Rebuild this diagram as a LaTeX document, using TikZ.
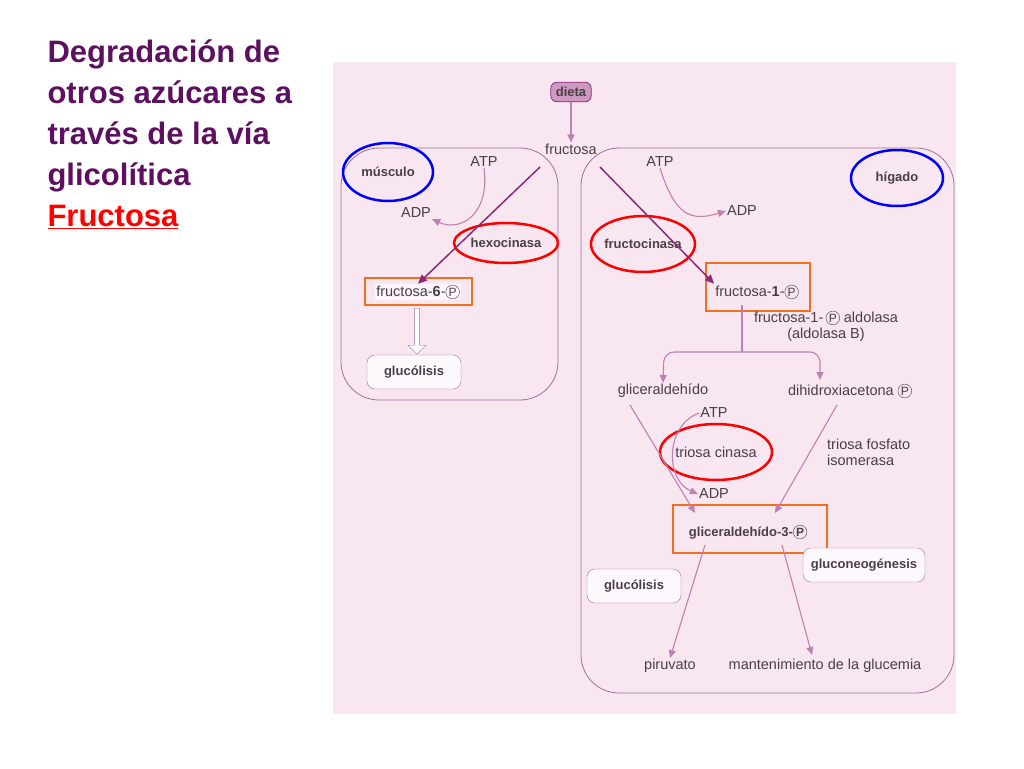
\documentclass[tikz,border=0pt]{standalone}
\usepackage{fontspec}
\setmainfont{Liberation Sans}
\usepackage{tikz}
\usetikzlibrary{arrows.meta,shapes.arrows}
\definecolor{titlecol}{HTML}{5E1060}
\definecolor{panel}{HTML}{F8E6F1}
\definecolor{boxline}{HTML}{A0709A}
\definecolor{arrowcol}{HTML}{C080B0}
\definecolor{darkarrow}{HTML}{8A2A78}
\definecolor{txt}{HTML}{4A3E48}
\definecolor{mark}{HTML}{F07020}
\newcommand\circP{\tikz[baseline=(c.base)]\node[circle,draw,inner sep=0.8pt,font=\fontsize{12}{12}\selectfont](c){P};}
\begin{document}
\begin{tikzpicture}[x=1pt,y=-1pt]
	\tikzstyle{lbl} = [text=txt, font=\fontsize{14.5}{16}\selectfont, inner sep=1pt]
	\tikzstyle{blbl} = [lbl, font=\fontsize{13}{15}\selectfont\bfseries]
	\tikzstyle{panelbox} = [draw=boxline, thick, rounded corners=38pt]
	\tikzstyle{flow} = [-{Triangle[length=8pt,width=7pt]}, arrowcol, line width=1.1pt]
	\tikzstyle{mainflow} = [-{Triangle[length=9pt,width=8pt]}, darkarrow, line width=1.5pt]
	\tikzstyle{redring} = [draw=red, line width=2.5pt]
	\tikzstyle{bluering} = [draw=blue, line width=2.5pt]
	\tikzstyle{orangebox} = [draw=mark, line width=2.5pt]
	\useasboundingbox (0,0) rectangle (1024,768);
	% title
	\node[anchor=north west, align=left, text=titlecol, font=\fontsize{31}{41}\selectfont\bfseries](title) at (44,36)
		{Degradación de\\otros azúcares a\\través de la vía\\glicolítica\\\textcolor{red}{\underline{Fructosa}}};
	% panel
	\fill[panel] (333,62) rectangle (956,714);
	\draw[panelbox] (341,148) rectangle (558,400);
	\draw[panelbox] (581,148) rectangle (954,693);
	\node[blbl, draw=darkarrow, thick, fill=arrowcol!80, rounded corners=6pt, inner sep=5pt](dieta) at (571,92){dieta};
	\node[lbl](fructosa) at (571,149){fructosa};
	\draw[flow] (dieta) -- (fructosa);
	% musculo
	\node[blbl](musculo) at (388,172){músculo};
	\draw[bluering] (musculo) ellipse (45 and 29);
	\node[lbl](atpL) at (484,162){ATP};
	\node[lbl](adpL) at (416,213){ADP};
	\node[blbl](hexo) at (506,243){hexocinasa};
	\draw[redring] (hexo) ellipse (52 and 20);
	\node[lbl, fill=white!60!panel](f6p) at (418,292){fructosa-\textbf{6}-\circP};
	\draw[orangebox] (365,278) rectangle (472,305);
	\coordinate (startL) at (540,167);
	\draw[flow] (atpL.south) .. controls (490,215) and (460,232) .. (adpL.south east);
	\draw[mainflow] (startL) -- (f6p.north);
	\node[blbl, draw=boxline, fill=white!70!panel, rounded corners=8pt, minimum width=94pt, minimum height=34pt](glucL) at (414,372){glucólisis};
	\node[single arrow, draw=boxline, fill=white, shape border rotate=270, minimum height=46pt, minimum width=18pt, single arrow head extend=3pt, inner sep=1pt](hollow) at (417,330){};
	% higado
	\node[blbl](higado) at (897,178){hígado};
	\draw[bluering] (higado) ellipse (46 and 28);
	\node[lbl](atpR) at (660,162){ATP};
	\node[lbl](adpR) at (742,211){ADP};
	\node[blbl](fructo) at (643,244){fructocinasa};
	\draw[redring] (fructo) ellipse (52 and 28);
	\node[lbl](f1p) at (757,292){fructosa-\textbf{1}-\circP};
	\draw[orangebox] (706,263) rectangle (810,311);
	\coordinate (startR) at (600,167);
	\draw[flow] (atpR.south) .. controls (675,215) and (690,222) .. (adpR.west);
	\draw[mainflow] (startR) -- (f1p.north west);
	\node[lbl, align=center](aldolasa) at (826,326){fructosa-1-\,\circP\ aldolasa\\(aldolasa B)};
	% split
	\node[lbl](glic) at (663,391){gliceraldehído};
	\node[lbl](dhap) at (850,391){dihidroxiacetona \circP};
	\coordinate (split) at (742,352);
	\draw[arrowcol, line width=1.1pt] (742,305) -- (split);
	\draw[flow, rounded corners=10pt] (split) -- (664,352) -- (glic.north);
	\draw[flow, rounded corners=10pt] (split) -- (820,352) -- (820,380);
	\node[lbl](atpT) at (714,413){ATP};
	\node[lbl](triosa) at (716,452){triosa cinasa};
	\draw[redring] (triosa) ellipse (56 and 28);
	\node[lbl](adpT) at (714,494){ADP};
	\node[lbl, align=left, anchor=west](isom) at (826,452){triosa fosfato\\isomerasa};
	\node[blbl](g3p) at (748,532){gliceraldehído-3-\circP};
	\draw[orangebox] (673,505) rectangle (827,553);
	\draw[flow] (630,405) -- (695,513);
	\draw[flow] (837,405) -- (775,513);
	\draw[flow] (atpT.west) .. controls (665,425) and (665,480) .. (adpT.west);
	\node[blbl, draw=boxline, fill=white!70!panel, rounded corners=8pt, minimum width=122pt, minimum height=34pt](gluconeo) at (864,565){gluconeogénesis};
	\node[blbl, draw=boxline, fill=white!70!panel, rounded corners=8pt, minimum width=94pt, minimum height=34pt](glucR) at (634,586){glucólisis};
	\node[lbl](piruvato) at (670,666){piruvato};
	\node[lbl](glucemia) at (825,666){mantenimiento de la glucemia};
	\draw[flow] (705,545) -- (piruvato.north);
	\draw[flow] (782,545) -- (812,655);
\end{tikzpicture}
\end{document}
